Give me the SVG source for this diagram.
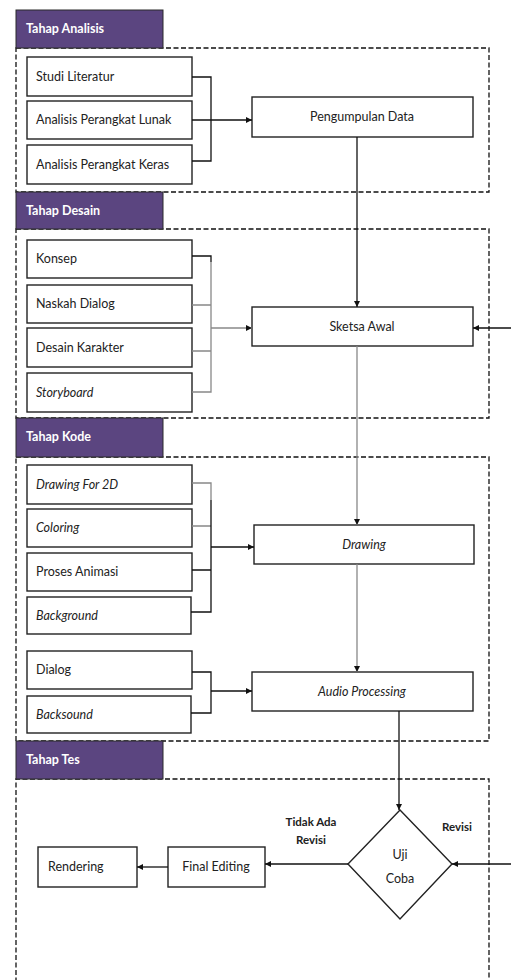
<svg xmlns="http://www.w3.org/2000/svg" width="511" height="980" viewBox="0 0 511 980">
<defs>
<marker id="ah" markerWidth="7" markerHeight="7" refX="6" refY="3.5" orient="auto" markerUnits="userSpaceOnUse">
<path d="M0,0.5 L6,3.5 L0,6.5 Z" fill="#111"/>
</marker>
</defs>
<style>
.sec{fill:none;stroke:#111;stroke-width:1.3;stroke-dasharray:5,2.5}
.hdr rect{fill:#5b4580;stroke:#2a2a2a;stroke-width:1}
.hdr text{fill:#fff;font-family:Lato,"Liberation Sans",sans-serif;font-weight:bold;font-size:12.5px}
.box rect,.box polygon{fill:#fff;stroke:#222;stroke-width:1.4}
.box text{fill:#222;font-family:Lato,"Liberation Sans",sans-serif;font-size:12.5px}
.it{font-style:italic}
.c{text-anchor:middle}
.lbl{fill:#222;font-family:Lato,"Liberation Sans",sans-serif;font-size:11.5px;font-weight:bold;text-anchor:middle}
.ln{fill:none;stroke:#111;stroke-width:1.3}
.lg{fill:none;stroke:#888;stroke-width:1.3}
</style>

<!-- section frames -->
<g id="frames">
<rect class="sec" x="16" y="48" width="473" height="144"/>
<rect class="sec" x="16" y="229" width="473" height="189"/>
<rect class="sec" x="16" y="457" width="473" height="284"/>
<path class="sec" d="M16,990 L16,779 L489,779 L489,990"/>
</g>

<g id="hdr-analisis" class="hdr"><rect x="16" y="10" width="147" height="38"/><text x="26" y="33">Tahap Analisis</text></g>
<g id="hdr-desain" class="hdr"><rect x="16" y="192" width="147" height="37"/><text x="26" y="215">Tahap Desain</text></g>
<g id="hdr-kode" class="hdr"><rect x="16" y="418" width="147" height="39"/><text x="26" y="441">Tahap Kode</text></g>
<g id="hdr-tes" class="hdr"><rect x="16" y="741" width="147" height="38"/><text x="26" y="764">Tahap Tes</text></g>

<!-- Analisis -->
<g id="studi" class="box"><rect x="27" y="57" width="165" height="39"/><text x="36" y="81">Studi Literatur</text></g>
<g id="lunak" class="box"><rect x="27" y="101" width="165" height="38"/><text x="36" y="124">Analisis Perangkat Lunak</text></g>
<g id="keras" class="box"><rect x="27" y="145" width="165" height="39"/><text x="36" y="169">Analisis Perangkat Keras</text></g>
<g id="pengumpulan" class="box"><rect x="252" y="97" width="221" height="40"/><text class="c" x="362" y="121">Pengumpulan Data</text></g>

<!-- Desain -->
<g id="konsep" class="box"><rect x="27" y="240" width="165" height="38"/><text x="36" y="263">Konsep</text></g>
<g id="naskah" class="box"><rect x="27" y="285" width="165" height="38"/><text x="36" y="308">Naskah Dialog</text></g>
<g id="karakter" class="box"><rect x="27" y="328" width="165" height="39"/><text x="36" y="352">Desain Karakter</text></g>
<g id="storyboard" class="box"><rect x="27" y="373" width="165" height="39"/><text class="it" x="36" y="397">Storyboard</text></g>
<g id="sketsa" class="box"><rect x="252" y="307" width="221" height="39"/><text class="c" x="362" y="331">Sketsa Awal</text></g>

<!-- Kode -->
<g id="drawing2d" class="box"><rect x="27" y="465" width="165" height="39"/><text class="it" x="36" y="489">Drawing For 2D</text></g>
<g id="coloring" class="box"><rect x="27" y="509" width="165" height="38"/><text class="it" x="36" y="532">Coloring</text></g>
<g id="animasi" class="box"><rect x="27" y="553" width="165" height="38"/><text x="36" y="576">Proses Animasi</text></g>
<g id="background" class="box"><rect x="27" y="597" width="164" height="37"/><text class="it" x="36" y="620">Background</text></g>
<g id="drawing" class="box"><rect x="254" y="525" width="220" height="39"/><text class="c it" x="364" y="549">Drawing</text></g>
<g id="dialog" class="box"><rect x="27" y="651" width="165" height="38"/><text x="36" y="674">Dialog</text></g>
<g id="backsound" class="box"><rect x="27" y="696" width="164" height="37"/><text class="it" x="36" y="719">Backsound</text></g>
<g id="audio" class="box"><rect x="252" y="672" width="221" height="39"/><text class="c it" x="362" y="696">Audio Processing</text></g>

<!-- Tes -->
<g id="ujicoba" class="box"><polygon points="400,810 452,864 400,919 348,864"/><text class="c" x="400" y="859">Uji</text><text class="c" x="400" y="883">Coba</text></g>
<g id="final" class="box"><rect x="168" y="847" width="97" height="40"/><text class="c" x="216" y="871">Final Editing</text></g>
<g id="rendering" class="box"><rect x="38" y="847" width="99" height="40"/><text x="48" y="871">Rendering</text></g>

<!-- connectors -->
<g id="connectors">
<path class="ln" d="M192,77 H211 V161 H192 M192,120 H211"/>
<path class="ln" d="M211,120 H252" marker-end="url(#ah)"/>
<path class="ln" d="M357,137 V307" marker-end="url(#ah)"/>

<path class="ln" d="M192,256 H211 V262"/>
<path class="lg" d="M211,262 V392 H192 M192,305 H211 M192,351 H211"/>
<path class="lg" d="M211,328 H252" marker-end="url(#ah)"/>
<path class="ln" d="M511,328 H473" marker-end="url(#ah)"/>
<path class="lg" d="M357,346 V525" marker-end="url(#ah)"/>

<path class="lg" d="M192,483 H211 V500 M192,526 H211"/>
<path class="ln" d="M211,500 V612 H191 M192,570 H211"/>
<path class="ln" d="M211,547 H254" marker-end="url(#ah)"/>
<path class="lg" d="M357,564 V672" marker-end="url(#ah)"/>

<path class="ln" d="M192,672 H211 V713 H191"/>
<path class="ln" d="M211,691 H252" marker-end="url(#ah)"/>
<path class="ln" d="M399,711 V810" marker-end="url(#ah)"/>

<path class="ln" d="M511,864 H452" marker-end="url(#ah)"/>
<path class="ln" d="M348,864 H265" marker-end="url(#ah)"/>
<path class="ln" d="M168,867 H137" marker-end="url(#ah)"/>
</g>

<g id="labels">
<text class="lbl" x="311" y="826">Tidak Ada</text>
<text class="lbl" x="311" y="844">Revisi</text>
<text class="lbl" x="457" y="831">Revisi</text>
</g>
</svg>
